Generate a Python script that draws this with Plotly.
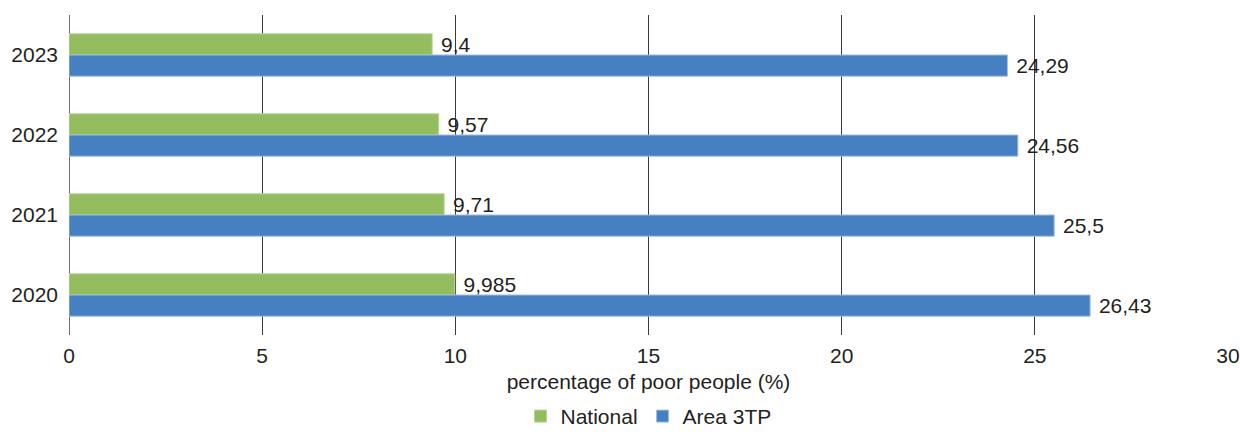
import plotly.graph_objects as go

years = ["2023", "2022", "2021", "2020"]
national = [9.4, 9.57, 9.71, 9.985]
area_3tp = [24.29, 24.56, 25.5, 26.43]
x_ticks = [0, 5, 10, 15, 20, 25, 30]

def fmt(v):
    return "\u00a0" + str(v).replace(".", ",")

font_family = "Liberation Sans, Arial, sans-serif"
text_color = "#231f20"

fig = go.Figure()
fig.add_trace(go.Bar(
    y=years, x=national, orientation="h", name="National",
    marker=dict(color="#93bd5f", line=dict(color="#b5d497", width=1)),
    text=[fmt(v) for v in national], textposition="outside",
    constraintext="none",
    textfont=dict(size=21, color=text_color, family=font_family),
    cliponaxis=False,
))
fig.add_trace(go.Bar(
    y=years, x=area_3tp, orientation="h", name="Area 3TP",
    marker=dict(color="#4680c0", line=dict(color="#9dbde0", width=1)),
    text=[fmt(v) for v in area_3tp], textposition="outside",
    constraintext="none",
    textfont=dict(size=21, color=text_color, family=font_family),
    cliponaxis=False,
))

fig.update_layout(
    width=1240, height=432,
    margin=dict(l=69, r=12, t=15, b=97, autoexpand=False),
    paper_bgcolor="white", plot_bgcolor="white",
    barmode="group", bargap=0.47, bargroupgap=0,
    font=dict(family=font_family, size=21, color=text_color),
    showlegend=True,
    legend=dict(orientation="h", x=0.5, xanchor="center", xref="paper",
                y=0.036, yanchor="middle", yref="container",
                font=dict(size=21, color=text_color),
                traceorder="normal"),
    uniformtext=dict(mode=False),
)
fig.update_xaxes(
    range=[0, 30], tickvals=x_ticks, ticktext=[str(t) for t in x_ticks],
    showgrid=True, gridcolor="#3a3a3a", gridwidth=1,
    zeroline=True, zerolinecolor="#6f6f6f", zerolinewidth=1,
    showline=False, ticks="", tickfont=dict(size=21, color=text_color),
    automargin=False, ticklabelstandoff=6,
    title=dict(text="percentage of poor people (%)", font=dict(size=21, color=text_color), standoff=8),
)
fig.update_yaxes(
    type="category", categoryorder="array", categoryarray=years,
    autorange="reversed", showgrid=False, showline=False, ticks="",
    automargin=False,
    tickfont=dict(size=21, color=text_color), ticklabelstandoff=10,
)

fig.write_html("out.html")
